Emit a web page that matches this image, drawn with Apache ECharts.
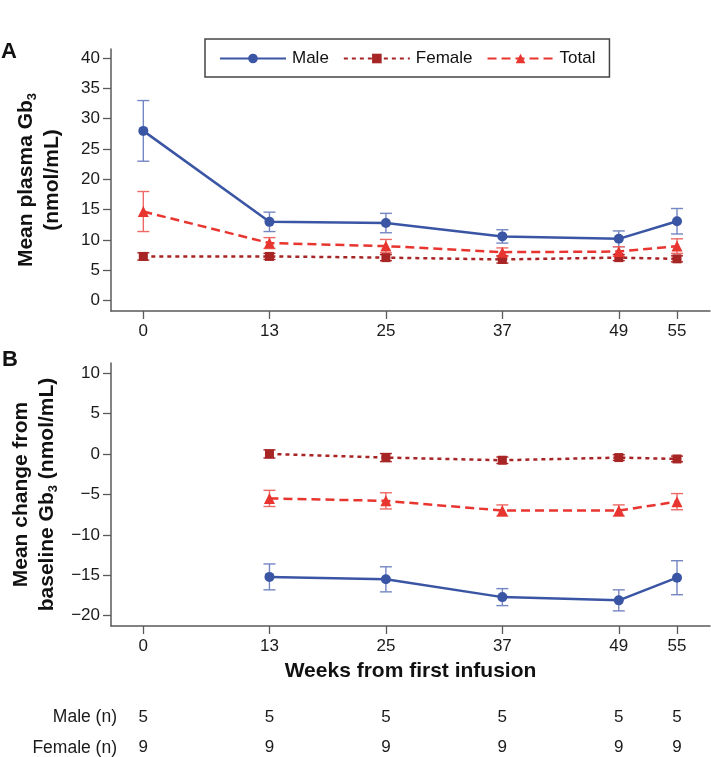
<!DOCTYPE html>
<html><head><meta charset="utf-8">
<script src="https://cdn.jsdelivr.net/npm/echarts@6/dist/echarts.min.js"></script>
<style>html,body{margin:0;padding:0;background:#fff}#c{width:711px;height:757px}</style>
</head><body><div id="c"></div>
<script>
// ---- data ----
const weeksA = [0, 13, 25, 37, 49, 55];
const weeksB = [13, 25, 37, 49, 55];
const xTicks = [0, 13, 25, 37, 49, 55];
const yTicksA = [0, 5, 10, 15, 20, 25, 30, 35, 40];
const yTicksB = [-20, -15, -10, -5, 0, 5, 10];
// Panel A: mean plasma Gb3 (nmol/mL) and error (half-width)
const maleA = [28.0, 13.0, 12.8, 10.6, 10.2, 13.1];
const maleAErr = [5.0, 1.6, 1.6, 1.1, 1.3, 2.1];
const femaleA = [7.3, 7.3, 7.1, 6.8, 7.1, 6.9];
const femaleAErr = [0.6, 0.5, 0.5, 0.6, 0.5, 0.5];
const totalA = [14.7, 9.5, 9.0, 8.0, 8.1, 9.0];
const totalAErr = [3.3, 0.9, 1.1, 0.7, 0.8, 1.2];
// Panel B: mean change from baseline
const maleB = [-15.2, -15.5, -17.7, -18.1, -15.3];
const maleBErr = [1.6, 1.55, 1.05, 1.3, 2.1];
const femaleB = [0.0, -0.45, -0.78, -0.45, -0.62];
const femaleBErr = [0.5, 0.5, 0.4, 0.35, 0.35];
const totalB = [-5.5, -5.8, -7.0, -7.0, -5.9];
const totalBErr = [1.0, 1.0, 0.7, 0.7, 1.0];
// n per timepoint
const maleN = [5, 5, 5, 5, 5, 5];
const femaleN = [9, 9, 9, 9, 9, 9];

const BLUE = '#3a55a4', BLUE_E = '#7486c2';
const DRED = '#a82525', DRED_E = '#a82525';
const RED = '#e8352f', RED_E = '#ee6a66';
const FONT = 'Liberation Sans, Arial, sans-serif';

function pairs(xs, ys) { return xs.map((x, i) => [x, ys[i]]); }
function errs(xs, ys, es) { return xs.map((x, i) => [x, ys[i] - es[i], ys[i] + es[i]]); }
function errSeries(name, xs, ys, es, color, gi) {
  return {
    type: 'custom', name: name + ' err', xAxisIndex: gi === 0 ? 0 : 1, yAxisIndex: gi, z: 1,
    data: errs(xs, ys, es), silent: true,
    renderItem: function (params, api) {
      const x = api.value(0);
      const lo = api.coord([x, api.value(1)]);
      const hi = api.coord([x, api.value(2)]);
      const w = 6;
      const st = { stroke: color, lineWidth: 1.4 };
      return { type: 'group', children: [
        { type: 'line', shape: { x1: lo[0], y1: lo[1], x2: hi[0], y2: hi[1] }, style: st },
        { type: 'line', shape: { x1: lo[0] - w, y1: lo[1], x2: lo[0] + w, y2: lo[1] }, style: st },
        { type: 'line', shape: { x1: hi[0] - w, y1: hi[1], x2: hi[0] + w, y2: hi[1] }, style: st }
      ]};
    }
  };
}
function lineSeries(name, xs, ys, color, type, symbol, size, gi) {
  return {
    type: 'line', name: name, xAxisIndex: gi === 0 ? 0 : 1, yAxisIndex: gi, z: 3,
    data: pairs(xs, ys), symbol: symbol, symbolSize: size,
    itemStyle: { color: color },
    lineStyle: { color: color, width: 2.5, type: type }
  };
}

const XMIN = -3.33, XMAX = 58.4;
const axisLineStyle = { show: true, onZero: false, lineStyle: { color: '#5a5a5a', width: 1.5 } };
const tickStyle = { show: true, length: 8, lineStyle: { color: '#5a5a5a', width: 1.3 } };

function xAxis(gi, extra) {
  return Object.assign({
    type: 'value', gridIndex: gi, min: XMIN, max: XMAX,
    axisLine: axisLineStyle, splitLine: { show: false },
    axisTick: Object.assign({ customValues: xTicks }, tickStyle),
    axisLabel: { customValues: xTicks, color: '#1a1a1a', fontSize: 17, fontFamily: FONT, margin: 12 }
  }, extra || {});
}
function nAxis(values, offset) {
  return {
    type: 'value', gridIndex: 1, min: XMIN, max: XMAX, position: 'bottom', offset: offset,
    axisLine: { show: false, onZero: false }, axisTick: { show: false }, splitLine: { show: false },
    axisLabel: { customValues: xTicks, color: '#1a1a1a', fontSize: 17, fontFamily: FONT, margin: 0,
      formatter: function (v) { const i = xTicks.indexOf(v); return i >= 0 ? String(values[i]) : ''; } }
  };
}
const nameStyle = {
  fontSize: 21, fontWeight: 'bold', fontFamily: FONT, color: '#111', lineHeight: 26,
  rich: { sub: { fontSize: 13, fontWeight: 'bold', fontFamily: FONT, color: '#111', verticalAlign: 'bottom', lineHeight: 12 } }
};

const option = {
  animation: false,
  backgroundColor: '#fff',
  grid: [
    { left: 111, top: 49, width: 599, height: 262 },
    { left: 111, top: 363, width: 599, height: 263 }
  ],
  legend: {
    data: ['Male', 'Female', 'Total'],
    left: 205, top: 39, itemWidth: 66, itemHeight: 12, itemGap: 14,
    padding: [11, 14, 10, 14], borderColor: '#444', borderWidth: 1.5,
    textStyle: { fontSize: 17, fontFamily: FONT, color: '#111', padding: [0, 0, 0, 1] }
  },
  xAxis: [
    xAxis(0),
    xAxis(1, { name: 'Weeks from first infusion', nameLocation: 'middle', nameGap: 35,
      nameTextStyle: { fontSize: 21, fontWeight: 'bold', fontFamily: FONT, color: '#111' } }),
    nAxis(maleN, 83),
    nAxis(femaleN, 113)
  ],
  yAxis: [
    { type: 'value', gridIndex: 0, min: -1.7, max: 41.5,
      name: 'Mean plasma Gb{sub|3}\n(nmol/mL)', nameLocation: 'middle', nameGap: 46, nameRotate: 90,
      nameTextStyle: nameStyle,
      axisLine: axisLineStyle, splitLine: { show: false },
      axisTick: Object.assign({ customValues: yTicksA }, tickStyle),
      axisLabel: { customValues: yTicksA, color: '#1a1a1a', fontSize: 17, fontFamily: FONT, margin: 11 } },
    { type: 'value', gridIndex: 1, min: -21.27, max: 11.24,
      name: 'Mean change from\nbaseline Gb{sub|3} (nmol/mL)', nameLocation: 'middle', nameGap: 50, nameRotate: 90,
      nameTextStyle: nameStyle,
      axisLine: axisLineStyle, splitLine: { show: false },
      axisTick: Object.assign({ customValues: yTicksB }, tickStyle),
      axisLabel: { customValues: yTicksB, color: '#1a1a1a', fontSize: 17, fontFamily: FONT, margin: 11,
        formatter: function (v) { return v < 0 ? '\u2212' + Math.abs(v) : String(v); } } }
  ],
  graphic: [
    { type: 'text', left: 1, top: 41, style: { text: 'A', fontSize: 22, fontWeight: 'bold', fontFamily: FONT, fill: '#111' } },
    { type: 'text', left: 2, top: 349, style: { text: 'B', fontSize: 22, fontWeight: 'bold', fontFamily: FONT, fill: '#111' } },
    { type: 'text', right: 594, top: 708, style: { text: 'Male (n)', fontSize: 17.5, fontFamily: FONT, fill: '#1a1a1a', align: 'right' } },
    { type: 'text', right: 594, top: 739, style: { text: 'Female (n)', fontSize: 17.5, fontFamily: FONT, fill: '#1a1a1a', align: 'right' } }
  ],
  series: [
    errSeries('Male', weeksA, maleA, maleAErr, BLUE_E, 0),
    errSeries('Female', weeksA, femaleA, femaleAErr, DRED_E, 0),
    errSeries('Total', weeksA, totalA, totalAErr, RED_E, 0),
    lineSeries('Male', weeksA, maleA, BLUE, 'solid', 'circle', 10, 0),
    lineSeries('Female', weeksA, femaleA, DRED, [4, 4], 'rect', 9, 0),
    lineSeries('Total', weeksA, totalA, RED, [9, 5], 'triangle', 11, 0),
    errSeries('Male', weeksB, maleB, maleBErr, BLUE_E, 1),
    errSeries('Female', weeksB, femaleB, femaleBErr, DRED_E, 1),
    errSeries('Total', weeksB, totalB, totalBErr, RED_E, 1),
    lineSeries('Male', weeksB, maleB, BLUE, 'solid', 'circle', 10, 1),
    lineSeries('Female', weeksB, femaleB, DRED, [4, 4], 'rect', 9, 1),
    lineSeries('Total', weeksB, totalB, RED, [9, 5], 'triangle', 11, 1)
  ]
};
const chart = echarts.init(document.getElementById('c'), null, { renderer: 'canvas' });
chart.setOption(option);
</script>
</body></html>
